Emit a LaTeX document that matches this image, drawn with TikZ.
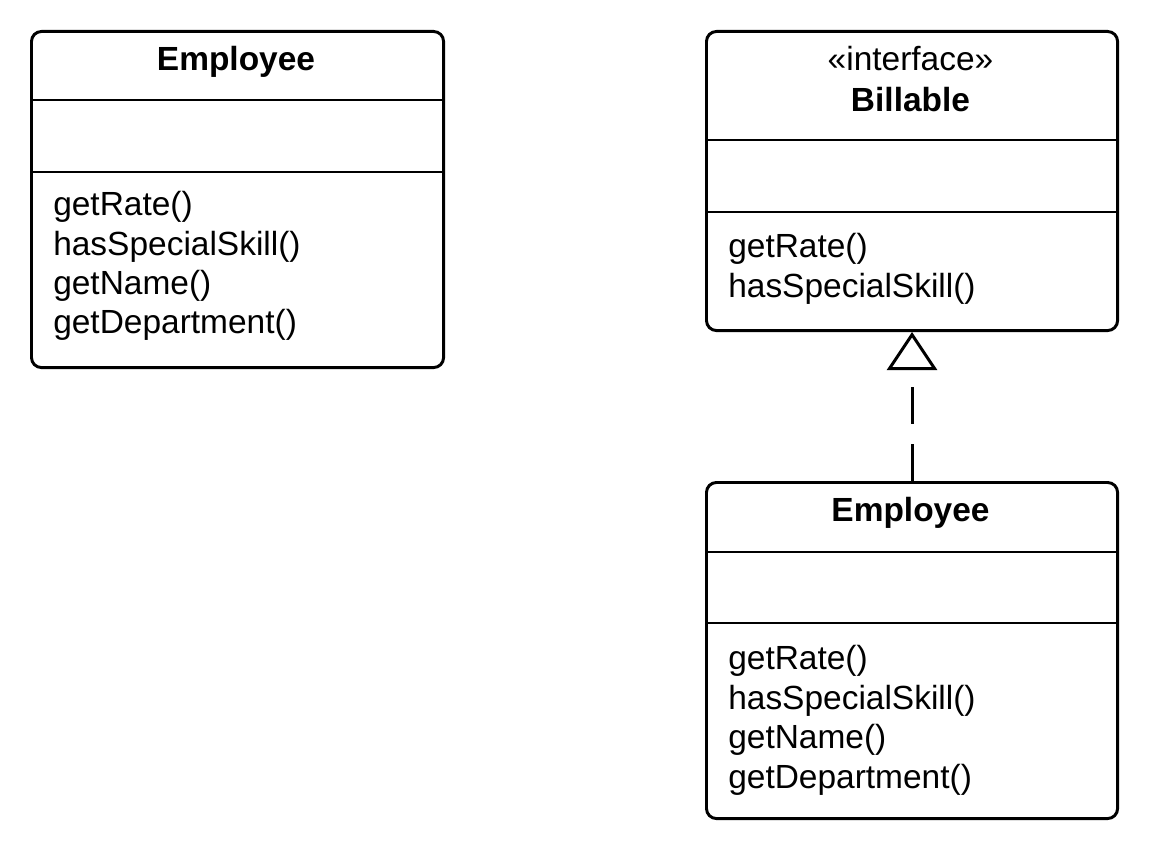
\documentclass[tikz,border=0pt]{standalone}
\usepackage{fontspec}
\setmainfont{Liberation Sans}
\usetikzlibrary{arrows.meta}
\tikzset{
  classbox/.style={draw, line width=2.1pt, rounded corners=0.25cm, anchor=north west, inner sep=0pt},
  divider/.style={line width=2.1pt},
  member/.style={anchor=base west, inner sep=0pt, font=\fontsize{23.8}{28.5}\selectfont},
  classname/.style={anchor=base, inner sep=0pt, font=\fontsize{23.8}{28.5}\selectfont\bfseries},
  stereo/.style={anchor=base, inner sep=0pt, font=\fontsize{23.8}{28.5}\selectfont},
  realize/.style={line width=2.1pt, dash pattern=on 0.925cm off 0.5cm, -{Triangle[open, length=0.95cm, width=1.25cm]}},
}
\begin{document}
\begin{tikzpicture}[x=0.025cm, y=-0.025cm]
\useasboundingbox (0,0) rectangle (1152,846);

% Employee alone
\node [classbox, minimum width=10.3cm, minimum height=8.4cm] (empA) at (30,30) {};
\draw [divider] (30,100) -- (442,100);
\draw [divider] (30,172) -- (442,172);
\node [classname] (empAname) at (236,71) {Employee};
\node [member] (empArate) at (53,216) {getRate()};
\node [member] (empAskill) at (53,256) {hasSpecialSkill()};
\node [member] (empAnm) at (53,295) {getName()};
\node [member] (empAdept) at (53,334) {getDepartment()};

% Billable interface
\node [classbox, minimum width=10.275cm, minimum height=7.475cm] (bill) at (705,30) {};
\draw [divider] (705,140) -- (1116,140);
\draw [divider] (705,212) -- (1116,212);
\node [stereo] (billstereo) at (910.5,71) {«interface»};
\node [classname] (billname) at (910.5,112) {Billable};
\node [member] (billrate) at (728,258) {getRate()};
\node [member] (billskill) at (728,298) {hasSpecialSkill()};

% Employee implementing Billable
\node [classbox, minimum width=10.275cm, minimum height=8.4cm] (empB) at (705,481) {};
\draw [divider] (705,552) -- (1116,552);
\draw [divider] (705,623) -- (1116,623);
\node [classname] (empBname) at (910.5,521) {Employee};
\node [member] (empBrate) at (728,669) {getRate()};
\node [member] (empBskill) at (728,709) {hasSpecialSkill()};
\node [member] (empBnm) at (728,748) {getName()};
\node [member] (empBdept) at (728,788) {getDepartment()};

\draw [realize] (empB.north) -- (bill.south);
\end{tikzpicture}
\end{document}
